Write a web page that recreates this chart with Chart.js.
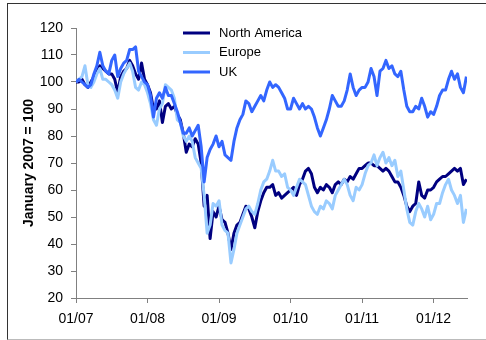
<!DOCTYPE html>
<html>
<head>
<meta charset="utf-8">
<script src="https://cdn.jsdelivr.net/npm/chart.js@4"></script>
<style>
  html, body { margin: 0; padding: 0; background: #fff; }
  #wrap { position: relative; width: 486px; height: 340px; overflow: hidden; }
  #frame {
    position: absolute; left: 7px; top: 3px; width: 500px; height: 335px;
    border-top: 1px solid #333; border-left: 1px solid #333; border-bottom: 1px solid #bbb;
  }
  #chart { position: absolute; left: 0; top: 0; }
</style>
</head>
<body>
<div id="wrap">
  <div id="frame"></div>
  <canvas id="chart" width="486" height="340"></canvas>
</div>
<script>
// half-monthly readings, x = months since January 2007
const tickLabels = ['01/07', '01/08', '01/09', '01/10', '01/11', '01/12']
const seriesNames = ['North America', 'Europe', 'UK']

let monthIndex = []
for (let i = 0; i < 132; i++) {
    monthIndex.push(i / 2)
}

const northAmerica = [
    100, 100, 101, 99, 98, 100, 102, 104, 106, 105, 104, 103, 103, 101, 96, 102, 104, 105, 108, 106, 103, 101, 107, 101,
    99, 96, 90, 90, 93, 85, 91, 92, 90, 91, 88, 86, 81, 74, 77, 76, 79, 77, 70, 54, 58, 42, 52, 50,
    54, 49, 48, 44, 38, 44, 47, 48, 51, 54, 53, 50, 46, 52, 56, 59, 61, 61, 62, 58, 59, 57, 58, 59,
    60, 61, 58, 62, 64, 67, 68, 66, 61, 59, 61, 60, 62, 61, 59, 62, 63, 62, 64, 63, 65, 64, 66, 68,
    68, 69, 70, 70, 69, 69, 68, 67, 68, 67, 65, 63, 63, 61, 58, 54, 52, 54, 55, 63, 58, 57, 60, 60,
    61, 63, 64, 65, 65, 66, 67, 68, 67, 68, 62, 64
]

const europe = [
    100, 101, 102, 106, 99, 98, 100, 103, 105, 101, 101, 100, 99, 97, 94, 100, 103, 105, 107, 104, 98, 97, 100, 99,
    96, 92, 86, 84, 90, 92, 99, 98, 97, 94, 86, 85, 80, 78, 80, 78, 72, 70, 68, 58, 44, 47, 55, 54,
    56, 47, 45, 44, 33, 38, 44, 47, 50, 53, 54, 52, 51, 55, 60, 63, 64, 67, 71, 67, 67, 65, 66, 61,
    60, 58, 61, 64, 63, 62, 58, 54, 52, 51, 54, 53, 56, 55, 53, 58, 60, 62, 64, 62, 58, 56, 61, 60,
    62, 66, 69, 70, 73, 69, 72, 74, 70, 72, 69, 71, 65, 67, 60, 53, 48, 47, 52, 55, 53, 50, 54, 49,
    51, 55, 55, 59, 62, 64, 60, 58, 55, 58, 48, 53
]

const uk = [
    100, 101, 100, 99, 98, 99, 103, 106, 111, 106, 104, 103, 108, 110, 102, 105, 107, 108, 112, 112, 113, 104, 102, 100,
    99, 95, 87, 94, 96, 94, 98, 95, 95, 92, 89, 85, 81, 81, 83, 80, 82, 84, 76, 63, 72, 75, 77, 80,
    76, 78, 73, 72, 71, 78, 83, 86, 88, 93, 92, 89, 91, 93, 95, 93, 97, 100, 98, 99, 98, 96, 94, 90,
    90, 94, 92, 90, 92, 90, 91, 90, 87, 83, 80, 83, 86, 90, 95, 93, 91, 91, 93, 97, 103, 98, 95, 97,
    98, 98, 100, 105, 102, 95, 104, 105, 108, 105, 106, 103, 102, 104, 97, 91, 89, 89, 91, 90, 94, 91,
    87, 89, 88, 91, 95, 97, 97, 101, 104, 101, 103, 98, 96, 102
]

const lineColors = ['#000080', '#99CCFF', '#3366FF']
const allSeries = [northAmerica, europe, uk]

const datasets = seriesNames.map((name, i) => ({
    label: name,
    data: allSeries[i].map((v, j) => ({ x: monthIndex[j], y: v })),
    borderColor: lineColors[i],
    borderWidth: 3,
    borderJoinStyle: 'round',
    pointRadius: 0,
    tension: 0,
    fill: false,
    order: 3 - i
}))

// legend drawn inside the plot, top middle
const innerLegend = {
    id: 'innerLegend',
    afterDraw(chart) {
        const ctx = chart.ctx
        ctx.save()
        ctx.font = '13px "Liberation Sans", Arial, sans-serif'
        ctx.textBaseline = 'middle'
        ctx.lineWidth = 3
        seriesNames.forEach((name, i) => {
            const y = 33 + i * 19.5
            ctx.strokeStyle = lineColors[i]
            ctx.beginPath()
            ctx.moveTo(183, y)
            ctx.lineTo(210, y)
            ctx.stroke()
            ctx.fillStyle = '#000'
            ctx.fillText(name, 219, y)
        })
        ctx.restore()
    }
}

const tickFont = { family: '"Liberation Sans", Arial, sans-serif', size: 14 }

new Chart(document.getElementById('chart'), {
    type: 'line',
    data: { datasets: datasets },
    options: {
        responsive: false,
        animation: false,
        layout: { padding: { top: 28, right: 19, left: 21, bottom: 0 } },
        plugins: { legend: { display: false }, tooltip: { enabled: false } },
        scales: {
            x: {
                type: 'linear',
                min: 0,
                max: 65.6,
                afterFit: (scale) => { scale.height = 42 },
                afterBuildTicks: (scale) => {
                    scale.ticks = tickLabels.map((t, i) => ({ value: i * 12 }))
                },
                ticks: {
                    color: '#000',
                    font: tickFont,
                    padding: 8,
                    maxRotation: 0,
                    callback: (v) => tickLabels[v / 12]
                },
                grid: { drawOnChartArea: false, tickLength: 5, color: '#808080' },
                border: { color: '#808080', width: 1 }
            },
            y: {
                min: 20,
                max: 120,
                afterFit: (scale) => { scale.width = 55 },
                ticks: { stepSize: 10, color: '#000', font: tickFont, padding: 8 },
                grid: { drawOnChartArea: false, tickLength: 5, color: '#808080' },
                border: { color: '#808080', width: 1 },
                title: {
                    display: true,
                    text: 'January 2007 = 100',
                    color: '#000',
                    font: { family: '"Liberation Sans", Arial, sans-serif', size: 14, weight: 'bold' },
                    padding: 0
                }
            }
        }
    },
    plugins: [innerLegend]
})
</script>
</body>
</html>
